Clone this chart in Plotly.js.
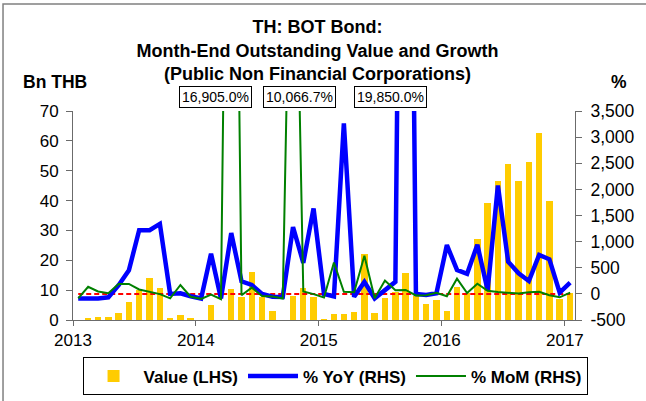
<!DOCTYPE html>
<html>
<head>
<meta charset="utf-8">
<script src="https://cdn.plot.ly/plotly-3.0.1.min.js"></script>
<style>
  html, body { margin: 0; padding: 0; background: #ffffff; }
  #chart { width: 646px; height: 401px; }
</style>
</head>
<body>
<div id="chart"></div>
<script>
// ---- Data ----
const months = [
  '2013-01','2013-02','2013-03','2013-04','2013-05','2013-06','2013-07','2013-08','2013-09','2013-10','2013-11','2013-12',
  '2014-01','2014-02','2014-03','2014-04','2014-05','2014-06','2014-07','2014-08','2014-09','2014-10','2014-11','2014-12',
  '2015-01','2015-02','2015-03','2015-04','2015-05','2015-06','2015-07','2015-08','2015-09','2015-10','2015-11','2015-12',
  '2016-01','2016-02','2016-03','2016-04','2016-05','2016-06','2016-07','2016-08','2016-09','2016-10','2016-11','2016-12',
  '2017-01'
];

// Month-end outstanding value, Bn THB (LHS)
const valueBn = [
  0, 0.6, 0.9, 0.9, 2.4, 6.0, 10.2, 14.0, 10.7, 0.6, 1.7, 0.6,
  0, 5.1, 0.06, 10.3, 7.6, 16.2, 7.6, 3.1, 0.08, 8.0, 10.7, 7.8,
  0.2, 2.1, 2.1, 2.8, 22.0, 2.3, 7.4, 9.3, 15.7, 8.2, 5.4, 6.6,
  3.1, 10.9, 9.1, 27.0, 39.2, 46.5, 52.2, 46.6, 53.0, 62.8, 39.8, 7.2,
  9.1
];

// % YoY (RHS)
const yoyPct = [
  -88, -88, -88, -66, 165, 450, 1220, 1220, 1340, 0, 10, -45,
  -88, 770, -88, 1165, 240, 170, 0, -53, -60, 1280, 595, 1635,
  0, -50, 3265, -55, 230, -85, 60, 230, 19850, 0, -21, 11,
  935, 458, 385, 940, 68, 2075, 617, 394, 247, 745, 662, 24,
  215
];

// % MoM (RHS)
const momPct = [
  -85, 135, 45, 12, 190, 190, 85, 45, -5, -85, 170, -55,
  -95, -15, -100, 16905, -26, 120, -40, -50, -90, 10066.7, 45, -5,
  -70, 600, 40, 30, 730, -85, 255, 70, 75, -30, -25, 20,
  -45, 290, 15, 195, 60, 35, 25, 5, 30, 40, -25, -66,
  24
];

// Axis tick labels
const leftTicks = [0, 10, 20, 30, 40, 50, 60, 70];
const rightTicks = [-500, 0, 500, 1000, 1500, 2000, 2500, 3000, 3500];
const rightTickText = ['-500', '0', '500', '1,000', '1,500', '2,000', '2,500', '3,000', '3,500'];
const yearTicks = ['2013-01-01', '2014-01-01', '2015-01-01', '2016-01-01', '2017-01-01'];
const yearLabels = ['2013', '2014', '2015', '2016', '2017'];

// Off-scale values labelled in boxes
const calloutTexts = ['16,905.0%', '10,066.7%', '19,850.0%'];

// ---- Chart ----
const FONT = 'Liberation Sans, Arial, sans-serif';
const DAY = 86400000;

const traces = [
  {
    type: 'bar', name: 'Value (LHS)',
    x: months, y: valueBn, xperiod: 'M1', xperiodalignment: 'middle',
    width: 19 * DAY,
    marker: { color: '#FFCC00', line: { width: 0 } },
    yaxis: 'y', hoverinfo: 'skip'
  },
  {
    type: 'scatter', mode: 'lines', name: 'zero', showlegend: false,
    x: months, y: months.map(() => 0), xperiod: 'M1', xperiodalignment: 'middle',
    line: { color: '#FF0000', width: 2, dash: '5px,3px' },
    yaxis: 'y2', hoverinfo: 'skip'
  },
  {
    type: 'scatter', mode: 'lines', name: '% YoY (RHS)',
    x: months, y: yoyPct, xperiod: 'M1', xperiodalignment: 'middle',
    line: { color: '#0000FF', width: 4.5 },
    yaxis: 'y2', hoverinfo: 'skip'
  },
  {
    type: 'scatter', mode: 'lines', name: '% MoM (RHS)',
    x: months, y: momPct, xperiod: 'M1', xperiodalignment: 'middle',
    line: { color: '#008000', width: 2 },
    yaxis: 'y2', hoverinfo: 'skip'
  }
];

const calloutX = [0.283, 0.452, 0.633];
const annotations = calloutTexts.map((t, k) => ({
  text: t, xref: 'paper', yref: 'paper', x: calloutX[k], y: 1.067,
  xanchor: 'center', yanchor: 'middle', showarrow: false,
  font: { family: FONT, size: 14, color: '#000' },
  bgcolor: '#ffffff', bordercolor: '#000000', borderwidth: 1, borderpad: 2
}));
annotations.push({
  text: '<b>Bn THB</b>', xref: 'paper', yref: 'paper', x: -0.103, y: 1.139,
  xanchor: 'left', yanchor: 'middle', showarrow: false,
  font: { family: FONT, size: 17.5, color: '#000' }
});
annotations.push({
  text: '<b>%</b>', xref: 'paper', yref: 'paper', x: 1.088, y: 1.139,
  xanchor: 'center', yanchor: 'middle', showarrow: false,
  font: { family: FONT, size: 17.5, color: '#000' }
});

const axisCol = '#6b6b6b';
const layout = {
  width: 646, height: 401,
  margin: { l: 73, r: 71, t: 111, b: 81, pad: 0, autoexpand: false },
  paper_bgcolor: '#ffffff', plot_bgcolor: '#ffffff',
  font: { family: FONT, size: 17, color: '#000' },
  showlegend: true,
  title: {
    text: '<b>TH: BOT Bond:<br>Month-End Outstanding Value and Growth<br>(Public Non Financial Corporations)</b>',
    font: { family: FONT, size: 18, color: '#000' },
    xref: 'container', x: 0.4915, xanchor: 'center',
    yref: 'container', y: 0.917, yanchor: 'top'
  },
  bargap: 0,
  xaxis: {
    type: 'date', range: ['2013-01-01', '2017-01-31'],
    tickmode: 'array', tickvals: yearTicks, ticktext: yearLabels,
    ticks: 'outside', ticklen: 5, tickwidth: 1, tickcolor: axisCol,
    showline: true, linecolor: axisCol, linewidth: 1,
    showgrid: false, zeroline: false,
    tickfont: { family: FONT, size: 17, color: '#000' }
  },
  yaxis: {
    range: [0, 70], tickmode: 'array', tickvals: leftTicks,
    ticks: 'outside', ticklen: 6, tickwidth: 1, tickcolor: axisCol,
    showline: true, linecolor: axisCol, linewidth: 1,
    showgrid: false, zeroline: false, ticklabelstandoff: 4,
    tickfont: { family: FONT, size: 17, color: '#000' }
  },
  yaxis2: {
    range: [-500, 3500], overlaying: 'y', side: 'right',
    tickmode: 'array', tickvals: rightTicks, ticktext: rightTickText,
    ticks: 'outside', ticklen: 6, tickwidth: 1, tickcolor: axisCol,
    showline: true, linecolor: axisCol, linewidth: 1,
    showgrid: false, zeroline: false, ticklabelstandoff: 5,
    tickfont: { family: FONT, size: 17.5, color: '#000' }
  },
  legend: {
    orientation: 'h', xref: 'paper', yref: 'paper',
    x: 0.522, xanchor: 'center', y: -0.27, yanchor: 'middle',
    bordercolor: '#000000', borderwidth: 1, bgcolor: '#ffffff',
    font: { family: FONT, size: 17, color: '#000', weight: 'bold' },
    itemwidth: 50, traceorder: 'normal'
  },
  annotations: annotations,
  shapes: [
    { type: 'rect', xref: 'paper', yref: 'paper',
      x0: -0.1394, x1: 1.2, y0: -0.5, y1: 1.512,
      line: { color: '#808080', width: 1.5 }, fillcolor: 'rgba(0,0,0,0)', layer: 'below' }
  ]
};

Plotly.newPlot('chart', traces, layout, { staticPlot: true, displayModeBar: false });
</script>
</body>
</html>
